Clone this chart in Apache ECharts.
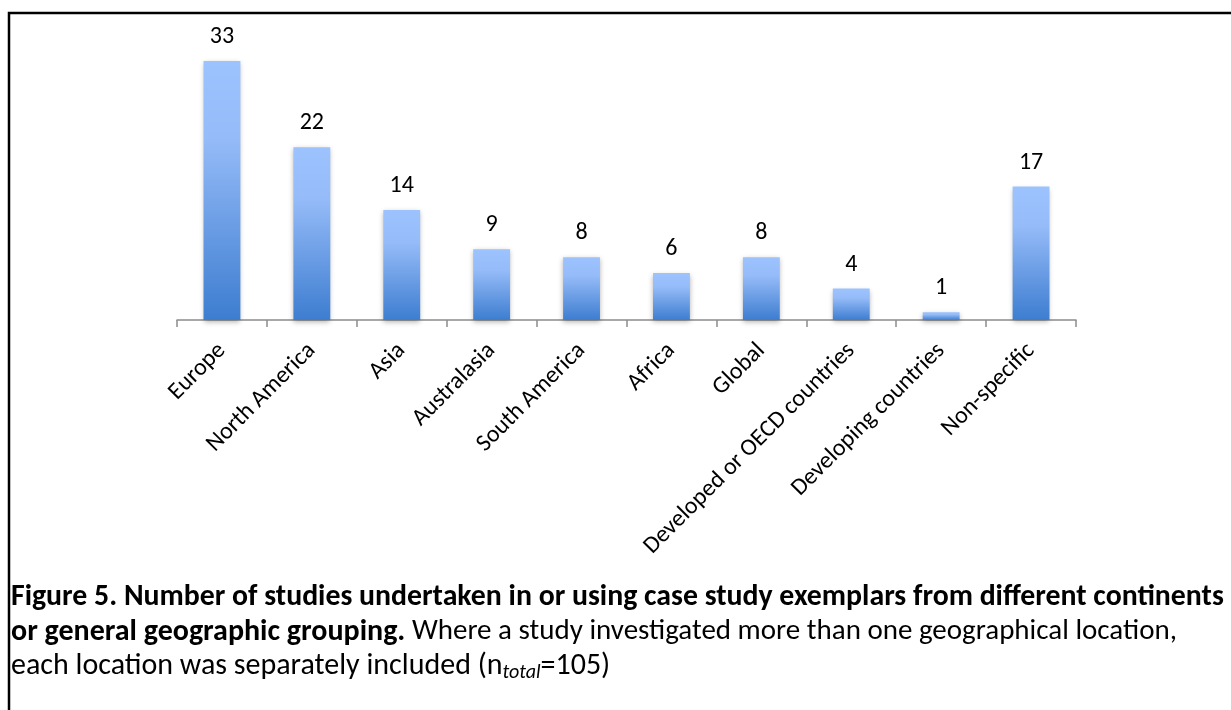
<!DOCTYPE html>
<html><head><meta charset="utf-8">
<script src="https://cdn.jsdelivr.net/npm/echarts@6/dist/echarts.min.js"></script>
<style>html,body{margin:0;padding:0;background:#fff}#c{width:1231px;height:710px}</style>
</head><body><div id="c"></div>
<script>
const categories = ['Europe','North America','Asia','Australasia','South America','Africa','Global','Developed or OECD countries','Developing countries','Non-specific'];
const studyCounts = [33,22,14,9,8,6,8,4,1,17];
const captionLine1 = 'Figure 5. Number of studies undertaken in or using case study exemplars from different continents';
const captionLine2Bold = 'or general geographic grouping.';
const captionLine2Rest = ' Where a study investigated more than one geographical location,';
const captionLine3a = 'each location was separately included (n';
const captionLine3sub = 'total';
const captionLine3b = '=105)';

const FONT = 'Carlito, Lato, sans-serif';
const chart = echarts.init(document.getElementById('c'), null, {renderer:'canvas'});
chart.setOption({
  animation:false,
  backgroundColor:'#fff',
  grid:{left:177,right:155,top:61,bottom:390,containLabel:false},
  xAxis:{type:'category',data:categories,
    axisLine:{lineStyle:{color:'#8c8c8c',width:1.5}},
    axisTick:{show:true,length:7,lineStyle:{color:'#8c8c8c',width:1.5}},
    axisLabel:{rotate:45,margin:27,color:'#000',fontSize:24,fontFamily:FONT,interval:0}},
  yAxis:{type:'value',min:0,max:33,show:false,splitLine:{show:false}},
  series:[{type:'bar',data:studyCounts,barWidth:'41%',
    itemStyle:{color:new echarts.graphic.LinearGradient(0,0,0,1,[
      {offset:0,color:'#9dc3ff'},{offset:0.3,color:'#95bbf8'},{offset:1,color:'#3d7dd0'}]),
      shadowColor:'rgba(0,0,0,0.3)',shadowBlur:5,shadowOffsetY:2},
    label:{show:true,position:'top',distance:12,color:'#000',fontSize:24,fontFamily:FONT}}],
  graphic:[
    {type:'rect',shape:{x:9,y:13,width:1240,height:720},style:{fill:'none',stroke:'#000',lineWidth:2.5},silent:true},
    {type:'text',x:11,y:598,style:{text:captionLine1,fontSize:29.8,fontWeight:'bold',fontFamily:FONT,fill:'#000',verticalAlign:'middle'}},
    {type:'text',x:11,y:632,style:{text:'{b|'+captionLine2Bold+'}{n|'+captionLine2Rest+'}',verticalAlign:'middle',
      rich:{b:{fontSize:30,fontWeight:'bold',fontFamily:FONT,fill:'#000',lineHeight:34},
            n:{fontSize:29,fontFamily:FONT,fill:'#000',lineHeight:34}}}},
    {type:'text',x:11,y:666,style:{text:'{n|'+captionLine3a+'}{s|'+captionLine3sub+'}{n|'+captionLine3b+'}',verticalAlign:'middle',
      rich:{n:{fontSize:30,fontFamily:FONT,fill:'#000',lineHeight:34},
            s:{fontSize:20,fontStyle:'italic',fontFamily:FONT,fill:'#000',lineHeight:16,verticalAlign:'bottom'}}}}
  ]
});
</script></body></html>
